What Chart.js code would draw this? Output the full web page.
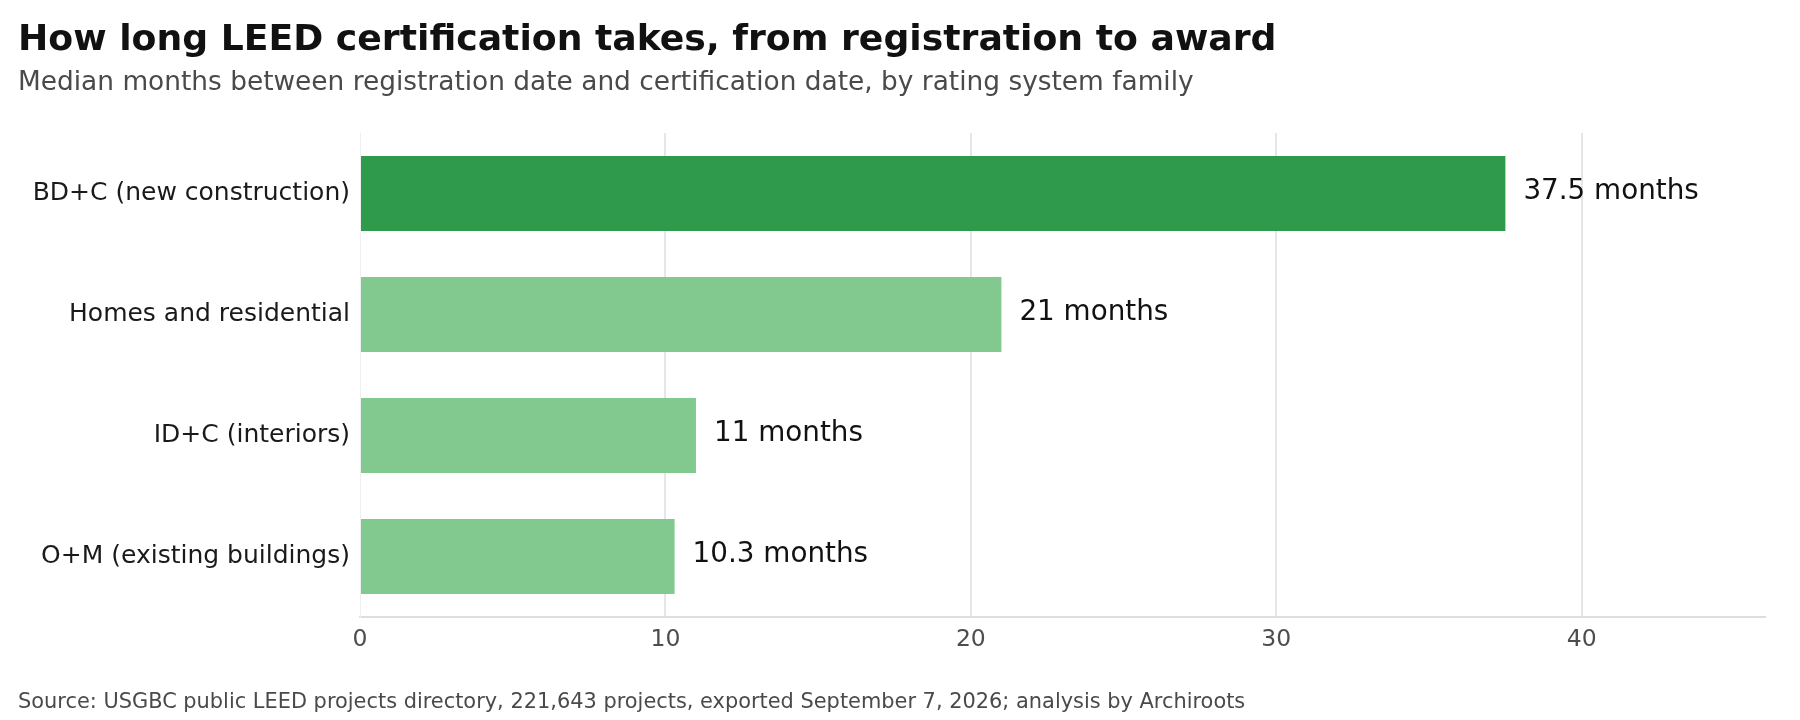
<!DOCTYPE html>
<html>
<head>
<meta charset="utf-8">
<script src="https://cdn.jsdelivr.net/npm/chart.js@4.4.1/dist/chart.umd.min.js"></script>
<style>
    html, body { margin: 0; padding: 0; background: #fff; }
    #wrap { width: 1800px; height: 720px; }
</style>
</head>
<body>
<div id="wrap"><canvas id="chart" width="1800" height="720"></canvas></div>
<script>
const categories = ['BD+C (new construction)', 'Homes and residential', 'ID+C (interiors)', 'O+M (existing buildings)'];
const medianMonths = [37.5, 21, 11, 10.3];
const xTicks = [0, 10, 20, 30, 40];
const barColors = ['#2f9a4c', '#82c98f', '#82c98f', '#82c98f'];

const titleText = 'How long LEED certification takes, from registration to award';
const subtitleText = 'Median months between registration date and certification date, by rating system family';
const sourceText = 'Source: USGBC public LEED projects directory, 221,643 projects, exported September 7, 2026; analysis by Archiroots';

const FONT = '"DejaVu Sans", "Liberation Sans", sans-serif';

// title, subtitle and source line
const headers = {
    id: 'headers',
    beforeDraw(chart) {
        const ctx = chart.ctx;
        ctx.save();
        ctx.fillStyle = '#ffffff';
        ctx.fillRect(0, 0, chart.width, chart.height);
        ctx.textBaseline = 'alphabetic';
        ctx.textAlign = 'left';
        ctx.fillStyle = '#111111';
        ctx.font = 'bold 36.2px ' + FONT;
        ctx.fillText(titleText, 18, 50);
        ctx.fillStyle = '#4a4a4a';
        ctx.font = '26.4px ' + FONT;
        ctx.fillText(subtitleText, 18, 90);
        ctx.font = '20.9px ' + FONT;
        ctx.fillText(sourceText, 18, 708);
        ctx.restore();
    }
};

// "xx months" labels at the end of each bar
const valueLabels = {
    id: 'valueLabels',
    afterDatasetsDraw(chart) {
        const ctx = chart.ctx;
        const meta = chart.getDatasetMeta(0);
        ctx.save();
        ctx.font = '27.8px ' + FONT;
        ctx.fillStyle = '#111111';
        ctx.textBaseline = 'middle';
        ctx.textAlign = 'left';
        meta.data.forEach((bar, i) => {
            ctx.fillText(`${medianMonths[i]} months`, bar.x + 18, bar.y - 2);
        });
        ctx.restore();
    }
};

const ctx = document.getElementById('chart').getContext('2d');

new Chart(ctx, {
    type: 'bar',
    data: {
        labels: categories,
        datasets: [{
            data: medianMonths,
            backgroundColor: barColors,
            borderWidth: 0,
            barPercentage: 0.62,
            categoryPercentage: 1,
        }],
    },
    options: {
        indexAxis: 'y',
        responsive: false,
        animation: false,
        devicePixelRatio: 1,
        layout: {
            padding: { top: 133, right: 35, left: 0, bottom: 0 },
        },
        plugins: {
            legend: { display: false },
            tooltip: { enabled: false },
            title: { display: false },
        },
        scales: {
            x: {
                type: 'linear',
                min: 0,
                max: 46,
                afterBuildTicks: (scale) => {
                    scale.ticks = xTicks.map(v => ({ value: v }));
                },
                afterFit: (scale) => {
                    scale.height = 720 - 617;
                },
                grid: {
                    color: (c) => (c.tick && c.tick.value === 0) ? 'rgba(0,0,0,0)' : '#e6e6e9',
                    lineWidth: 2,
                    drawTicks: false,
                },
                border: { color: '#dedede', width: 2 },
                ticks: {
                    color: '#4d4d4d',
                    font: { family: FONT, size: 23.5 },
                    padding: 9,
                },
            },
            y: {
                afterFit: (scale) => {
                    scale.width = 360;
                },
                grid: { display: false, drawTicks: false },
                border: { color: '#efefef', width: 1 },
                ticks: {
                    color: '#1a1a1a',
                    font: { family: FONT, size: 25 },
                    padding: 10,
                },
            },
        },
    },
    plugins: [headers, valueLabels],
});
</script>
</body>
</html>
